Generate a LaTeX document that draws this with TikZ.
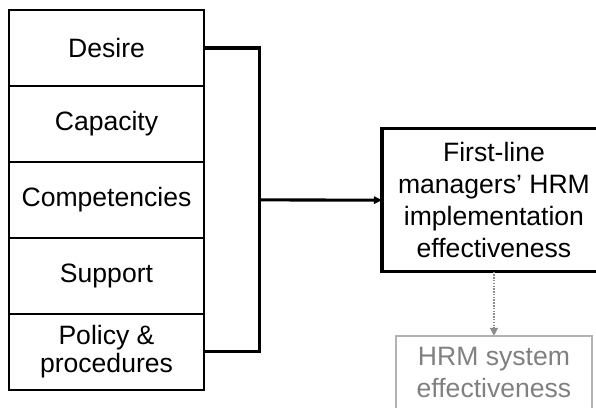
\documentclass[tikz,border=0pt]{standalone}
\usepackage{fontspec}
\setmainfont{Liberation Sans}
\usetikzlibrary{arrows.meta,positioning,calc}
\definecolor{textdark}{HTML}{000000}
\definecolor{mutedgray}{HTML}{808080}
\definecolor{bordergray}{HTML}{B3B3B3}
\definecolor{arrowgray}{HTML}{8C8C8C}
\tikzset{
  >=Latex,
  factor/.style={
    rectangle, draw=textdark, line width=2pt, outer sep=0pt,
    minimum width=5.16cm, minimum height=2.01cm, align=center,
    font=\fontsize{20}{23}\selectfont, text=textdark
  },
  outcome/.style={
    rectangle, draw=textdark, line width=2.4pt, outer sep=0pt,
    minimum width=5.927cm, minimum height=3.783cm, align=center,
    font=\fontsize{20}{24}\selectfont, text=textdark
  },
  distal/.style={
    rectangle, draw=bordergray, line width=1.1pt, outer sep=0pt,
    minimum width=5.186cm, minimum height=1.96cm, align=center,
    font=\fontsize{20}{24}\selectfont, text=mutedgray
  },
  bracket/.style={line width=2.3pt, draw=textdark},
  arrow/.style={-{Triangle[length=6pt,width=5.5pt]}, line width=2.3pt, draw=textdark},
  dotarrow/.style={-{Triangle[length=6pt,width=6pt]}, line width=1.1pt, draw=arrowgray, densely dotted}
}

\begin{document}
\begin{tikzpicture}
\useasboundingbox (0,0) rectangle (15.77,10.795);
\clip (0,0) rectangle (15.77,10.795);
% antecedent stack
\node[factor] (desire) at (2.818,9.525) {Desire};
\node[factor, below=0pt of desire] (capacity) {Capacity};
\node[factor, below=0pt of capacity] (comp) {Competencies};
\node[factor, below=0pt of comp] (support) {Support};
\node[factor, below=0pt of support] (policy) {Policy \&\\[-2pt]procedures};
% outcomes
\node[outcome] (fle) at (13.07,5.50) {First-line\\managers’ HRM\\implementation\\effectiveness};
\node[distal] (hrm) at (13.07,0.93) {HRM system\\effectiveness};
% connectors
\coordinate (jn) at ($(desire.east)!0.5!(policy.east)+(1.46,0)$);
\draw[bracket] (desire.east) -- (desire.east -| jn) -- (policy.east -| jn) -- (policy.east);
\draw[arrow] (jn) -- (fle.west);
\draw[dotarrow] (fle.south) -- (hrm.north);
\end{tikzpicture}
\end{document}
